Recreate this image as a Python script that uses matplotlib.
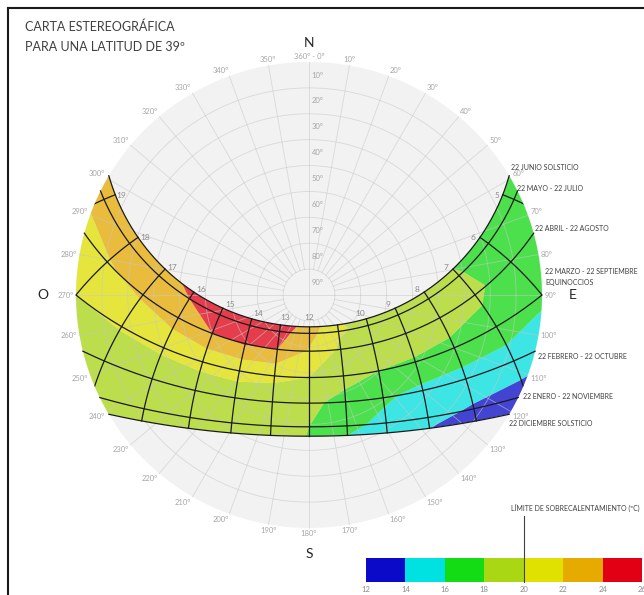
import numpy as np
import matplotlib
matplotlib.use('Agg')
import matplotlib.pyplot as plt
from matplotlib.colors import ListedColormap, BoundaryNorm
from matplotlib.patches import Circle, PathPatch
from matplotlib.path import Path
from matplotlib.lines import Line2D
import matplotlib.cm as cm

plt.rcParams['font.family'] = ['Lato', 'DejaVu Sans']

LAT = 39.0

# date lines: declination (deg) and label
declinations = [23.44, 20.3, 11.9, 0.0, -10.8, -20.0, -23.44]
date_labels = ['22 JUNIO SOLSTICIO', '22 MAYO - 22 JULIO', '22 ABRIL - 22 AGOSTO',
               '22 MARZO - 22 SEPTIEMBRE\nEQUINOCCIOS', '22 FEBRERO - 22 OCTUBRE',
               '22 ENERO - 22 NOVIEMBRE', '22 DICIEMBRE SOLSTICIO']

# solar hour lines
hour_lines = [5, 6, 7, 8, 9, 10, 11, 12, 13, 14, 15, 16, 17, 18, 19]
hour_labels = ['5', '6', '7', '8', '9', '10', '', '12', '13', '14', '15', '16', '17', '18', '19']

# temperature (ºC) per date line, at these solar hours
grid_hours = [4, 5, 6, 7, 8, 9, 10, 11, 12, 13, 14, 15, 16, 17, 18, 19, 20]
temp_jun = [16.6, 16.9, 17.4, 18.0, 19.0, 19.4, 19.6, 20.1, 23.3, 25.0, 25.5, 25.3, 24.3, 23.6, 23.3, 23.0, 22.8]
temp_may = [16.5, 16.8, 17.3, 18.1, 18.9, 19.3, 19.6, 20.2, 22.8, 24.8, 25.2, 25.0, 24.0, 23.2, 22.7, 22.4, 22.2]
temp_apr = [16.2, 16.5, 17.0, 18.4, 18.8, 19.1, 19.4, 19.7, 21.8, 24.0, 24.2, 24.0, 23.1, 22.3, 21.9, 21.6, 21.4]
temp_equ = [15.6, 15.9, 16.4, 17.2, 17.6, 17.8, 18.0, 18.8, 20.0, 20.3, 20.4, 20.3, 20.2, 20.1, 20.0, 19.9, 19.8]
temp_feb = [14.0, 14.3, 14.7, 15.0, 15.1, 15.5, 16.3, 17.3, 18.5, 19.2, 19.4, 19.4, 19.3, 19.2, 19.1, 19.0, 18.9]
temp_jan = [12.0, 12.3, 12.7, 13.2, 13.8, 14.5, 15.5, 16.5, 18.0, 18.8, 19.1, 19.2, 19.1, 19.0, 18.9, 18.8, 18.7]
temp_dec = [11.5, 11.8, 12.0, 12.5, 13.3, 14.0, 15.0, 16.0, 17.95, 18.6, 18.9, 19.0, 18.9, 18.8, 18.7, 18.6, 18.5]

levels = [12, 14, 16, 18, 20, 22, 24, 26]
level_colors = ['#0A0AC8', '#00E1E1', '#14DC14', '#AAD714', '#E1E100', '#E6AA00', '#E10014']
limit_temp = 20

# layout (pixels)
W, H = 644, 595
CX, CY, RPX = 309, 295, 233
label_offsets = [(2, 8), (0, 2), (1, 5), (3, 18), (3, -5), (5, 1), (0, -9)]

p = np.radians(LAT)


def sun_xy(dec, hour):
    d = np.radians(dec)
    h = np.radians(15 * (np.asarray(hour, dtype=float) - 12))
    alt = np.arcsin(np.sin(p) * np.sin(d) + np.cos(p) * np.cos(d) * np.cos(h))
    az = np.arctan2(-np.cos(d) * np.sin(h), np.sin(d) * np.cos(p) - np.cos(d) * np.sin(p) * np.cos(h))
    r = np.tan((np.pi / 2 - alt) / 2)
    return r * np.sin(az), r * np.cos(az)


def half_day(dec):
    return np.degrees(np.arccos(-np.tan(p) * np.tan(np.radians(dec)))) / 15


def rise_az(dec):
    return np.arccos(np.sin(np.radians(dec)) / np.cos(p))


fig = plt.figure(figsize=(W / 100, H / 100), dpi=100)
ax = fig.add_axes([0, 0, 1, 1])
ax.set_xlim(-CX / RPX, (W - CX) / RPX)
ax.set_ylim(-(H - CY) / RPX, CY / RPX)
ax.set_aspect('equal')
ax.axis('off')

# background disk and grid
ax.add_patch(Circle((0, 0), 1, facecolor='#F2F2F2', edgecolor='none', zorder=0))
grid_kw = dict(color='#C8C8C8', alpha=0.6, lw=0.6, zorder=3)
t = np.linspace(0, 2 * np.pi, 361)
for k in range(1, 9):
    ax.plot(k / 9 * np.cos(t), k / 9 * np.sin(t), **grid_kw)
for a in range(0, 360, 10):
    ar = np.radians(a)
    r0 = 0 if a % 90 == 0 else 1 / 9
    ax.plot([r0 * np.sin(ar), np.sin(ar)], [r0 * np.cos(ar), np.cos(ar)], **grid_kw)

# azimuth labels
for a in range(0, 360, 10):
    ar = np.radians(a)
    s, c = np.sin(ar), np.cos(ar)
    txt = '360º - 0º' if a == 0 else f'{a}º'
    ha = 'left' if s > 0.2 else ('right' if s < -0.2 else 'center')
    va = 'bottom' if c > 0.2 else ('top' if c < -0.2 else 'center')
    ax.text(1.01 * s, 1.01 * c, txt, ha=ha, va=va, fontsize=5.5, color='#A6A6A6', zorder=5)

# altitude labels
for alt in range(10, 100, 10):
    ax.text(0.012, (90 - alt) / 90 + 0.055, f'{alt}º', ha='left', va='center',
            fontsize=5.5, color='#A6A6A6', zorder=5)

# colored region between the solstice paths above the horizon
dj, dd = declinations[0], declinations[-1]
hj, hd = half_day(dj), half_day(dd)
xj, yj = sun_xy(dj, np.linspace(12 - hj, 12 + hj, 200))
xd, yd = sun_xy(dd, np.linspace(12 + hd, 12 - hd, 200))
a1 = np.linspace(2 * np.pi - rise_az(dj), 2 * np.pi - rise_az(dd), 60)
a2 = np.linspace(rise_az(dd), rise_az(dj), 60)
px = np.concatenate([xj, np.sin(a1), xd, np.sin(a2)])
py = np.concatenate([yj, np.cos(a1), yd, np.cos(a2)])
region = Path(np.column_stack([px, py]), closed=False)
clip_region = PathPatch(region, transform=ax.transData, facecolor='none', edgecolor='none')
ax.add_patch(clip_region)

temps = np.array([temp_jun, temp_may, temp_apr, temp_equ, temp_feb, temp_jan, temp_dec])
GX, GY = sun_xy(np.array(declinations)[:, None], np.array(grid_hours)[None, :])
cs = ax.contourf(GX, GY, temps, levels=levels, colors=level_colors, alpha=0.75, zorder=2,
                 antialiased=True)
cs.set_clip_path(clip_region)

# date lines
for dec in declinations:
    hh = half_day(dec)
    x, y = sun_xy(dec, np.linspace(12 - hh, 12 + hh, 200))
    ax.plot(x, y, color='#1A1A1A', lw=0.9, zorder=4)

# hour lines
horizon = Circle((0, 0), 1, transform=ax.transData)
dec_range = np.linspace(dd, dj, 100)
for hr, lab in zip(hour_lines, hour_labels):
    x, y = sun_xy(dec_range, np.full_like(dec_range, hr))
    ln, = ax.plot(x, y, color='#1A1A1A', lw=0.9, zorder=4)
    ln.set_clip_path(horizon)
    if lab:
        lx, ly = sun_xy(dj, hr)
        rr = np.hypot(lx, ly)
        f = (rr - 0.03) / rr
        ax.text(lx * f, ly * f + 0.01, lab, ha='center', va='center', fontsize=6,
                color='#8C8C8C', zorder=5)

# date labels at the sunrise end of each line
for dec, lab, off in zip(declinations, date_labels, label_offsets):
    az = rise_az(dec)
    ax.annotate(lab, (np.sin(az), np.cos(az)), xytext=off, textcoords='offset pixels',
                ha='left', va='center', fontsize=5, color='#404040', linespacing=1.6,
                zorder=5)

# cardinal points
for txt, (x, y) in zip(['N', 'S', 'O', 'E'],
                       [(0, 1.0815), (0, -1.1116), (-1.1416, 0), (1.133, 0)]):
    ax.text(x, y, txt, ha='center', va='center', fontsize=10, color='#262626')

# title
fig.text(25 / W, 1 - 27 / H, 'CARTA ESTEREOGRÁFICA', fontsize=9, color='#404040', va='center')
fig.text(25 / W, 1 - 47 / H, 'PARA UNA LATITUD DE 39º', fontsize=9, color='#404040', va='center')

# frame
fig.add_artist(Line2D([8 / W, 8 / W], [0, 1 - 8 / H], transform=fig.transFigure, color='#1A1A1A', lw=1.5))
fig.add_artist(Line2D([8 / W, 1], [1 - 8 / H, 1 - 8 / H], transform=fig.transFigure, color='#1A1A1A', lw=1.5))

# color scale
cmap = ListedColormap(level_colors)
norm = BoundaryNorm(levels, cmap.N)
cax = fig.add_axes([366 / W, (H - 582) / H, (642 - 366) / W, 24 / H])
cb = fig.colorbar(cm.ScalarMappable(norm=norm, cmap=cmap), cax=cax, orientation='horizontal',
                  ticks=levels)
cb.outline.set_visible(False)
cax.tick_params(length=0, labelsize=5.5, labelcolor='#8C8C8C', pad=3)
cax.plot([limit_temp, limit_temp], [0, 2.75], color='#404040', lw=0.8, clip_on=False,
         transform=cax.get_xaxis_transform())
fig.text(575 / W, 1 - 508 / H, 'LÍMITE DE SOBRECALENTAMIENTO (ºC)', ha='center', va='center',
         fontsize=5, color='#404040')

fig.savefig('out.png', dpi=100, facecolor='white')
